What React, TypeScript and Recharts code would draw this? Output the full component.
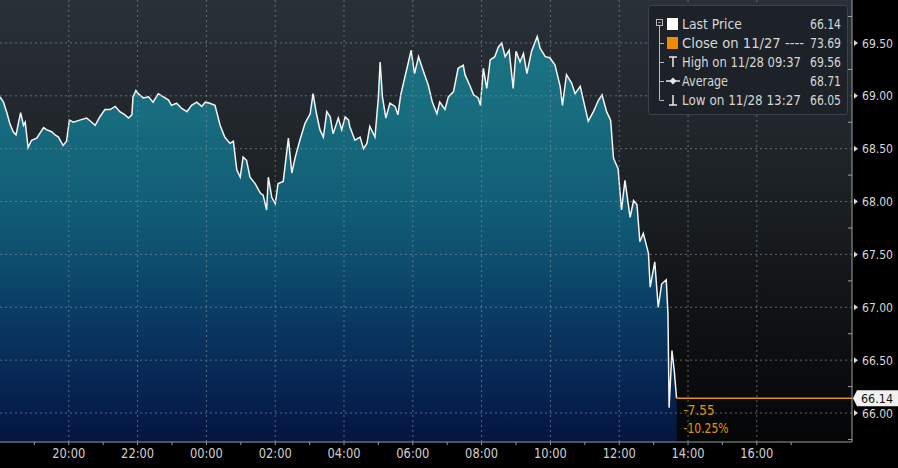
import React from 'react';
import { ComposedChart, Area, XAxis, YAxis, CartesianGrid, ReferenceLine } from 'recharts';

// intraday prices, session starts 18:00 on 11/27
const times = [
  '18:00', '18:06', '18:12', '18:17', '18:23', '18:28', '18:32', '18:36', '18:41', '18:44',
  '18:49', '18:55', '19:04', '19:16', '19:21', '19:30', '19:36', '19:42', '19:50', '19:56',
  '20:01', '20:08', '20:19', '20:31', '20:40', '20:46', '20:54', '21:03', '21:12', '21:21',
  '21:29', '21:38', '21:44', '21:50', '21:52', '21:57', '22:01', '22:10', '22:19', '22:27',
  '22:36', '22:45', '22:54', '22:59', '23:08', '23:17', '23:26', '23:34', '23:43', '23:52',
  '23:58', '00:06', '00:15', '00:24', '00:32', '00:41', '00:47', '00:53', '00:59', '01:04',
  '01:10', '01:16', '01:25', '01:34', '01:39', '01:45', '01:48', '01:54', '02:00', '02:05',
  '02:14', '02:23', '02:29', '02:35', '02:43', '02:52', '03:01', '03:06', '03:12', '03:18',
  '03:24', '03:30', '03:36', '03:41', '03:50', '03:56', '04:02', '04:08', '04:10', '04:19',
  '04:28', '04:34', '04:40', '04:45', '04:54', '05:00', '05:03', '05:07', '05:13', '05:20',
  '05:29', '05:34', '05:39', '05:45', '05:52', '05:57', '06:03', '06:10', '06:18', '06:27',
  '06:34', '06:42', '06:47', '06:56', '07:02', '07:11', '07:19', '07:28', '07:31', '07:40',
  '07:46', '07:54', '07:58', '08:03', '08:09', '08:15', '08:23', '08:29', '08:35', '08:41',
  '08:48', '08:55', '09:00', '09:07', '09:13', '09:19', '09:27', '09:37', '09:42', '09:51',
  '09:59', '10:08', '10:17', '10:21', '10:28', '10:37', '10:43', '10:52', '11:00', '11:06',
  '11:15', '11:24', '11:30', '11:38', '11:45', '11:50', '11:58', '12:04', '12:10', '12:19',
  '12:25', '12:31', '12:36', '12:42', '12:51', '12:54', '13:02', '13:08', '13:14', '13:22',
  '13:25', '13:27', '13:32', '13:36', '13:40',
];

const prices = [
  68.99, 68.94, 68.84, 68.74, 68.66, 68.63, 68.74, 68.84, 68.72, 68.75,
  68.51, 68.58, 68.60, 68.70, 68.68, 68.66, 68.63, 68.61, 68.53, 68.57,
  68.77, 68.75, 68.77, 68.79, 68.75, 68.72, 68.80, 68.87, 68.87, 68.90,
  68.85, 68.82, 68.79, 68.82, 68.99, 69.05, 69.02, 68.98, 68.99, 68.94,
  69.02, 68.99, 68.96, 68.91, 68.93, 68.88, 68.85, 68.91, 68.94, 68.90,
  68.94, 68.93, 68.91, 68.72, 68.61, 68.55, 68.57, 68.30, 68.23, 68.42,
  68.39, 68.23, 68.17, 68.08, 68.06, 67.92, 68.23, 68.04, 67.98, 68.17,
  68.19, 68.60, 68.27, 68.42, 68.58, 68.74, 68.83, 69.02, 68.83, 68.68,
  68.61, 68.85, 68.80, 68.64, 68.79, 68.68, 68.80, 68.77, 68.71, 68.58,
  68.61, 68.50, 68.55, 68.71, 68.61, 68.99, 69.32, 68.99, 68.79, 68.93,
  68.90, 68.82, 69.01, 69.15, 69.31, 69.43, 69.21, 69.37, 69.24, 69.10,
  68.94, 68.83, 68.94, 68.87, 68.99, 69.04, 69.26, 69.29, 69.20, 69.09,
  69.01, 68.98, 68.91, 69.26, 69.07, 69.34, 69.37, 69.46, 69.50, 69.37,
  69.43, 69.07, 69.42, 69.32, 69.40, 69.21, 69.42, 69.56, 69.45, 69.37,
  69.36, 69.29, 69.09, 68.91, 69.20, 69.12, 69.02, 69.09, 68.90, 68.76,
  68.85, 68.96, 69.01, 68.85, 68.77, 68.41, 68.31, 67.92, 68.20, 67.85,
  68.01, 67.97, 67.62, 67.70, 67.51, 67.19, 67.43, 67.00, 67.22, 67.26,
  66.94, 66.05, 66.59, 66.40, 66.14,
];

const hourTicks = ['19:00', '20:00', '21:00', '22:00', '23:00', '00:00', '01:00', '02:00', '03:00',
  '04:00', '05:00', '06:00', '07:00', '08:00', '09:00', '10:00', '11:00', '12:00', '13:00',
  '14:00', '15:00', '16:00', '17:00'];
const labelledHours = ['20:00', '22:00', '00:00', '02:00', '04:00', '06:00', '08:00', '10:00',
  '12:00', '14:00', '16:00'];
const priceTicks = [65.75, 66, 66.25, 66.5, 66.75, 67, 67.25, 67.5, 67.75, 68, 68.25, 68.5,
  68.75, 69, 69.25, 69.5, 69.75];
const gridPrices = [66, 66.5, 67, 67.5, 68, 68.5, 69, 69.5];

const prevClose = 73.69;
const legendLabels = ['Last Price', 'Close on 11/27 ----', 'High on 11/28 09:37', 'Average', 'Low on 11/28 13:27'];
const legendValues = ['66.14', '73.69', '69.56', '68.71', '66.05'];
// widths the narrow terminal font gives each legend label
const legendWidths = [60, 122, 119, 46, 119];

const FONT = "'DejaVu Sans', sans-serif";
const SESSION_START = 18 * 60;
const END_MIN = 1486;

const toMin = (s: string) => {
  const [h, m] = s.split(':').map(Number);
  let v = h * 60 + m - SESSION_START;
  if (v < 0) v += 1440;
  return v;
};
const fromMin = (v: number) => {
  const t = (v + SESSION_START) % 1440;
  const h = Math.floor(t / 60);
  const m = t % 60;
  return `${String(h).padStart(2, '0')}:${String(m).padStart(2, '0')}`;
};

const data = times.map((t, i) => ({ t: toMin(t), price: prices[i] }));
const last = prices[prices.length - 1];
const lastT = data[data.length - 1].t;
const chg = last - prevClose;
const chgPct = (chg / prevClose) * 100;

const TimeTick = (props: any) => {
  const { x, y, payload } = props;
  const label = fromMin(payload.value);
  if (!labelledHours.includes(label)) return null;
  return (
    <text x={x} y={y} dy="0.75em" textAnchor="middle" fill="#cfcfcf" fontSize={14} fontFamily={FONT}
      textLength={33} lengthAdjust="spacingAndGlyphs">
      {label}
    </text>
  );
};

const PriceTick = (props: any) => {
  const { x, y, payload } = props;
  const v = payload.value;
  const major = Math.abs(v * 2 - Math.round(v * 2)) < 1e-6;
  if (!major) {
    return <line x1={x} x2={x - 4} y1={y} y2={y} stroke="#a0a0a0" strokeWidth={1} />;
  }
  return (
    <g>
      <path d={`M${x + 2},${y - 3} L${x + 6},${y} L${x + 2},${y + 3} Z`} fill="#d8d8d8" />
      <text x={x + 10} y={y} dy="0.36em" fill="#d8d8d8" fontSize={13} fontFamily={FONT}
        textLength={31} lengthAdjust="spacingAndGlyphs">
        {v.toFixed(2)}
      </text>
    </g>
  );
};

const LastTag = (props: any) => {
  const { viewBox } = props;
  const x = viewBox.x + viewBox.width;
  const y = viewBox.y;
  const x0 = viewBox.x;
  return (
    <g fontFamily={FONT}>
      <path
        d={`M${x + 1},${y} L${x + 5},${y - 8} L${x + 46},${y - 8} L${x + 46},${y + 8} L${x + 5},${y + 8} Z`}
        fill="#f2f2f2"
      />
      <text x={x + 9} y={y} dy="0.36em" fill="#111" fontSize={13} textLength={32} lengthAdjust="spacingAndGlyphs">
        {last.toFixed(2)}
      </text>
      <text x={x0 + 7} y={y + 12} dy="0.36em" fill="#e8900f" fontSize={14} textLength={31} lengthAdjust="spacingAndGlyphs">
        {chg.toFixed(2)}
      </text>
      <text x={x0 + 7} y={y + 30} dy="0.36em" fill="#e8900f" fontSize={14} textLength={45} lengthAdjust="spacingAndGlyphs">
        {chgPct.toFixed(2)}%
      </text>
    </g>
  );
};

const LegendBox = () => {
  const rowY = (i: number) => 24 + i * 19;
  return (
    <svg width={898} height={468} style={{ position: 'absolute', left: 0, top: 0, pointerEvents: 'none' }}>
      <rect x={648.5} y={5.5} width={199} height={109} rx={3} fill="#1c2228" fillOpacity={0.95} stroke="#3c434a" />
      <g stroke="#b8b8b8" strokeWidth={1} fill="none">
        <rect x={656.5} y={19.5} width={6} height={6} />
        <line x1={658.5} y1={22.5} x2={660.5} y2={22.5} />
        <line x1={659.5} y1={26} x2={659.5} y2={rowY(4)} />
        {[1, 2, 3, 4].map((i) => (
          <line key={i} x1={659.5} y1={rowY(i) + 0.5} x2={664} y2={rowY(i) + 0.5} />
        ))}
      </g>
      <rect x={667} y={18} width={11} height={12} fill="#ffffff" />
      <rect x={667} y={37} width={11} height={12} fill="#f08c00" />
      <g stroke="#e8e8e8" strokeWidth={1.5} fill="none">
        <line x1={669} y1={57} x2={677} y2={57} />
        <line x1={673} y1={57} x2={673} y2={67} />
        <line x1={666} y1={81} x2={680} y2={81} />
        <line x1={673} y1={95} x2={673} y2={105} />
        <line x1={669} y1={105} x2={677} y2={105} />
      </g>
      <path d="M673,77.5 L676.5,81 L673,84.5 L669.5,81 Z" fill="#e8e8e8" />
      {legendLabels.map((l, i) => (
        <text key={l} x={682} y={rowY(i)} dy="0.36em" fill="#d6d6d6" fontSize={14} fontFamily={FONT}
          textLength={legendWidths[i]} lengthAdjust="spacingAndGlyphs">
          {l}
        </text>
      ))}
      {legendValues.map((v, i) => (
        <text key={i} x={841} y={rowY(i)} dy="0.36em" textAnchor="end" fill="#d6d6d6" fontSize={14} fontFamily={FONT}
          textLength={31} lengthAdjust="spacingAndGlyphs">
          {v}
        </text>
      ))}
      <text x={412} y={477} textAnchor="middle" fill="#9a9a9a" fontSize={13} fontFamily={FONT}
        textLength={70} lengthAdjust="spacingAndGlyphs">
        28 Nov 2018
      </text>
    </svg>
  );
};

export default function App() {
  return (
    <div style={{ position: 'absolute', left: 0, top: 0, width: 898, height: 468, background: '#000', overflow: 'hidden' }}>
      <ComposedChart width={898} height={468} data={data} margin={{ top: 0, right: 0, bottom: 0, left: 0 }}>
        <defs>
          <linearGradient id="bgGrad" x1="0" y1="0" x2="0" y2="1">
            <stop offset="0" stopColor="#293037" />
            <stop offset="0.4" stopColor="#1d2226" />
            <stop offset="0.7" stopColor="#101315" />
            <stop offset="1" stopColor="#040506" />
          </linearGradient>
          <linearGradient id="areaGrad" x1="0" y1="0" x2="0" y2="1">
            <stop offset="0" stopColor="#1a7483" />
            <stop offset="0.2" stopColor="#176c7e" />
            <stop offset="0.42" stopColor="#115d76" />
            <stop offset="0.58" stopColor="#0c4a6c" />
            <stop offset="0.72" stopColor="#093660" />
            <stop offset="0.86" stopColor="#072553" />
            <stop offset="1" stopColor="#041540" />
          </linearGradient>
        </defs>
        <CartesianGrid horizontal={false} vertical={false} fill="url(#bgGrad)" stroke="none" />
        <XAxis
          type="number"
          dataKey="t"
          domain={[0, END_MIN]}
          ticks={hourTicks.map(toMin)}
          interval={0}
          allowDataOverflow
          height={26}
          stroke="#9a9a9a"
          tickSize={3}
          tickMargin={2}
          tick={<TimeTick />}
        />
        <YAxis
          orientation="right"
          type="number"
          domain={[65.726, 69.906]}
          allowDataOverflow
          ticks={priceTicks}
          interval={0}
          width={46}
          tickSize={0}
          tickMargin={0}
          tickLine={false}
          stroke="#a0a0a0"
          tick={<PriceTick />}
        />
        <Area
          type="linear"
          dataKey="price"
          stroke="#f4f4f4"
          strokeWidth={1.5}
          fill="url(#areaGrad)"
          fillOpacity={1}
          isAnimationActive={false}
          dot={false}
          activeDot={false}
        />
        {labelledHours.map((h) => (
          <ReferenceLine key={h} x={toMin(h)} stroke="#7f8a94" strokeOpacity={0.7} strokeDasharray="2 3" />
        ))}
        {gridPrices.map((p) => (
          <ReferenceLine key={p} y={p} stroke="#7f8a94" strokeOpacity={0.7} strokeDasharray="2 3" />
        ))}
        <ReferenceLine
          segment={[{ x: lastT, y: last }, { x: END_MIN, y: last }]}
          stroke="#e8900f"
          strokeWidth={1.5}
          label={<LastTag />}
        />
      </ComposedChart>
      <LegendBox />
    </div>
  );
}
